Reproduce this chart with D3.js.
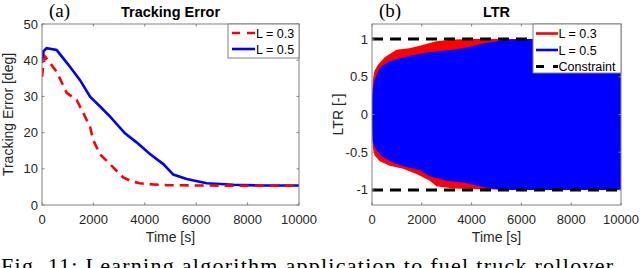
<!DOCTYPE html>
<html>
<head>
<meta charset="utf-8">
<script src="https://cdn.jsdelivr.net/npm/d3@7"></script>
<style>
  body { margin: 0; background: #fff; }
  svg { display: block; }
</style>
</head>
<body>
<svg id="chart"></svg>
<script>
// ─── Data ──────────────────────────────────────────────────────────────────
const timeTicks = [0, 2000, 4000, 6000, 8000, 10000];
const errTicks  = [0, 10, 20, 30, 40, 50];
const ltrTicks  = [-1, -0.5, 0, 0.5, 1];

// Tracking error [deg] vs time [s]
const errL03 = [[0,35.4],[50,38.7],[120,41],[570,36.8],[960,31],[1350,29],[1480,27.2],
  [1870,21.6],[2000,17.8],[2260,14],[2770,10.4],[3160,7.6],[3500,6.5],[3810,6.0],[4300,5.7],
  [4850,5.5],[6000,5.4],[8000,5.3],[10000,5.3]];
const errL05 = [[0,39.2],[60,42.5],[180,43.3],[570,42.8],[1000,39],[1480,34.5],[1870,29.9],
  [2260,27.2],[2650,24.4],[3230,19.8],[3680,17.3],[4200,14.1],[4720,11.3],[5110,8.4],
  [5630,7.2],[6410,6.0],[7450,5.6],[8500,5.4],[10000,5.4]];

// LTR oscillation envelopes (upper / lower)
const ltrL03Upper = [[0,0.2],[30,0.45],[100,0.58],[240,0.66],[510,0.76],[980,0.86],[1500,0.88],
  [1920,0.91],[2590,0.97],[3260,0.995],[4000,1.0],[10000,1.0]];
const ltrL03Lower = [[0,-0.2],[30,-0.44],[100,-0.54],[310,-0.62],[710,-0.68],[1250,-0.72],
  [1790,-0.79],[2320,-0.88],[2590,-0.95],[3260,-0.98],[4600,-0.99],[5500,-1.0],[10000,-1.0]];
const ltrL05Upper = [[0,0.15],[30,0.33],[110,0.46],[310,0.62],[710,0.71],[1380,0.77],[2320,0.83],
  [3260,0.86],[3930,0.9],[4600,0.95],[5400,0.99],[6000,1.0],[10000,1.0]];
const ltrL05Lower = [[0,-0.15],[30,-0.36],[150,-0.46],[400,-0.56],[800,-0.63],[1110,-0.67],
  [1920,-0.74],[2320,-0.82],[2990,-0.88],[3660,-0.9],[4200,-0.94],[4600,-0.97],[5270,-1.0],[10000,-1.0]];
const constraint = [-1, 1];

// ─── Layout ────────────────────────────────────────────────────────────────
const W = 640, H = 268;
const FONT = "'Liberation Sans', Arial, Helvetica, sans-serif";
const SERIF = "'Liberation Serif', 'Times New Roman', serif";
const AXIS = "#262626";
const RED = "#ff0000", BLUE = "#0000ff";

const svg = d3.select("#chart").attr("width", W).attr("height", H)
  .attr("viewBox", `0 0 ${W} ${H}`);

function panel(box, yDomain, yTicks, yFmt, title, tag, yLabel) {
  const x = d3.scaleLinear().domain([0, 10000]).range([box.x0, box.x1]);
  const y = d3.scaleLinear().domain(yDomain).range([box.y1, box.y0]);
  const g = svg.append("g");
  const clipId = "clip" + tag;
  svg.append("clipPath").attr("id", clipId).append("rect")
    .attr("x", box.x0).attr("y", box.y0).attr("width", box.x1 - box.x0).attr("height", box.y1 - box.y0);
  const plot = g.append("g").attr("clip-path", `url(#${clipId})`);
  const axes = g.append("g");

  // box + inward ticks on all four sides
  axes.append("rect").attr("x", box.x0).attr("y", box.y0)
    .attr("width", box.x1 - box.x0).attr("height", box.y1 - box.y0)
    .attr("fill", "none").attr("stroke", "#808080").attr("stroke-width", 1);
  const tl = 2.5;
  timeTicks.forEach(t => {
    axes.append("line").attr("x1", x(t)).attr("x2", x(t)).attr("y1", box.y1).attr("y2", box.y1 - tl)
      .attr("stroke", "#808080");
    axes.append("line").attr("x1", x(t)).attr("x2", x(t)).attr("y1", box.y0).attr("y2", box.y0 + tl)
      .attr("stroke", "#808080");
    axes.append("text").attr("x", x(t)).attr("y", box.y1 + 19)
      .attr("text-anchor", "middle").attr("font-family", FONT).attr("font-size", "13px")
      .attr("fill", AXIS).text(t);
  });
  yTicks.forEach(v => {
    axes.append("line").attr("x1", box.x0).attr("x2", box.x0 + tl).attr("y1", y(v)).attr("y2", y(v))
      .attr("stroke", "#808080");
    axes.append("line").attr("x1", box.x1).attr("x2", box.x1 - tl).attr("y1", y(v)).attr("y2", y(v))
      .attr("stroke", "#808080");
    axes.append("text").attr("x", box.x0 - 4).attr("y", y(v) + 4.5)
      .attr("text-anchor", "end").attr("font-family", FONT).attr("font-size", "13px")
      .attr("fill", AXIS).text(yFmt(v));
  });

  // labels
  g.append("text").attr("x", (box.x0 + box.x1) / 2).attr("y", 242)
    .attr("text-anchor", "middle").attr("font-family", FONT).attr("font-size", "14px")
    .attr("fill", AXIS).text("Time [s]");
  g.append("text").attr("transform", `translate(${box.x0 - 29},${(box.y0 + box.y1) / 2}) rotate(-90)`)
    .attr("text-anchor", "middle").attr("font-family", FONT).attr("font-size", "14px")
    .attr("fill", AXIS).text(yLabel);
  g.append("text").attr("x", (box.x0 + box.x1) / 2).attr("y", 17)
    .attr("text-anchor", "middle").attr("font-family", FONT).attr("font-size", "14.5px")
    .attr("font-weight", "bold").attr("fill", "#000").text(title);
  g.append("text").attr("x", box.x0 + 7).attr("y", 17)
    .attr("font-family", SERIF).attr("font-size", "19px").attr("fill", "#000").text(`(${tag})`);

  return { x, y, plot, g };
}

// ─── (a) Tracking Error ────────────────────────────────────────────────────
const A = panel({ x0: 42, x1: 299, y0: 24, y1: 205 }, [0, 50], errTicks, d => d,
  "Tracking Error", "a", "Tracking Error [deg]");
const lineA = d3.line().x(d => A.x(d[0])).y(d => A.y(d[1]));
A.plot.append("path").datum(errL05).attr("d", lineA)
  .attr("fill", "none").attr("stroke", BLUE).attr("stroke-width", 2.6);
A.plot.append("path").datum(errL03).attr("d", lineA)
  .attr("fill", "none").attr("stroke", RED).attr("stroke-width", 2.6)
  .attr("stroke-dasharray", "9,6");

// legend (a)
const legA = A.g.append("g");
legA.append("rect").attr("x", 228).attr("y", 24).attr("width", 71).attr("height", 34)
  .attr("fill", "#fff").attr("stroke", "#808080");
[["L = 0.3", RED, "8,7"], ["L = 0.5", BLUE, null]].forEach(([lbl, c, dash], i) => {
  const cy = 33 + i * 16;
  legA.append("line").attr("x1", 232).attr("x2", 255).attr("y1", cy).attr("y2", cy)
    .attr("stroke", c).attr("stroke-width", 2.6).attr("stroke-dasharray", dash);
  legA.append("text").attr("x", 256).attr("y", cy + 4.5).attr("font-family", FONT)
    .attr("font-size", "12.5px").attr("fill", "#000").text(lbl);
});

// ─── (b) LTR ───────────────────────────────────────────────────────────────
const B = panel({ x0: 372, x1: 621, y0: 24, y1: 205 }, [-1.2, 1.2], ltrTicks, d => d,
  "LTR", "b", "LTR [-]");
function band(upper, lower) {
  const pts = upper.map(d => [B.x(d[0]), B.y(d[1])])
    .concat(lower.slice().reverse().map(d => [B.x(d[0]), B.y(d[1])]));
  return "M" + pts.join("L") + "Z";
}
B.plot.append("path").attr("d", band(ltrL03Upper, ltrL03Lower)).attr("fill", RED);
B.plot.append("path").attr("d", band(ltrL05Upper, ltrL05Lower)).attr("fill", BLUE);
constraint.forEach(v => {
  B.plot.append("line").attr("x1", B.x(0)).attr("x2", B.x(10000))
    .attr("y1", B.y(v)).attr("y2", B.y(v))
    .attr("stroke", "#000").attr("stroke-width", 3).attr("stroke-dasharray", "11,7");
});

// legend (b)
const legB = B.g.append("g");
legB.append("rect").attr("x", 533).attr("y", 24).attr("width", 88).attr("height", 49)
  .attr("fill", "#fff").attr("stroke", "#808080");
[["L = 0.3", RED, null, 2.6], ["L = 0.5", BLUE, null, 2.6], ["Constraint", "#000", "8,9", 3]]
  .forEach(([lbl, c, dash, sw], i) => {
    const cy = 33.5 + i * 16.5;
    legB.append("line").attr("x1", 536).attr("x2", 558).attr("y1", cy).attr("y2", cy)
      .attr("stroke", c).attr("stroke-width", sw).attr("stroke-dasharray", dash);
    legB.append("text").attr("x", 558.5).attr("y", cy + 4.5).attr("font-family", FONT)
      .attr("font-size", "12.5px").attr("fill", "#000").text(lbl);
  });

// ─── Caption (cut off at the bottom, as in the source figure) ──────────────
svg.append("text").attr("x", 1).attr("y", 273)
  .attr("font-family", SERIF).attr("font-size", "22px").attr("fill", "#000")
  .attr("textLength", 612).attr("lengthAdjust", "spacing")
  .text("Fig. 11: Learning algorithm application to fuel truck rollover");
</script>
</body>
</html>
